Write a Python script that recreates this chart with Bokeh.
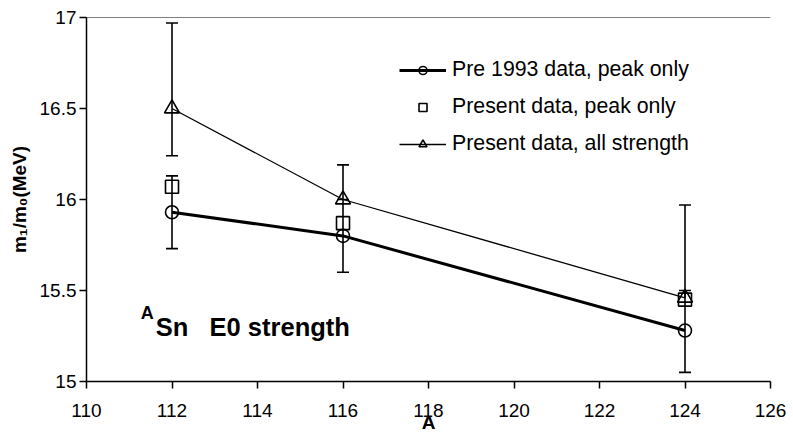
from bokeh.plotting import figure
from bokeh.models import (ColumnDataSource, Whisker, TeeHead, Legend, LegendItem,
                          Label, Span, FixedTicker)
from bokeh.embed import file_html
from bokeh.resources import INLINE

# ---- data ----
A = [112, 116, 124]
pre1993 = [15.93, 15.80, 15.28]
pre1993_lo = [15.73, 15.60, 15.05]
pre1993_hi = [16.13, 16.00, 15.50]
present_peak = [16.07, 15.87, 15.45]
present_all = [16.50, 16.00, 15.46]
present_all_hi = [16.97, 16.19, 15.97]
present_all_lo = [16.24, float("nan"), float("nan")]

x_ticks = [110, 112, 114, 116, 118, 120, 122, 124, 126]
y_ticks = [15, 15.5, 16, 16.5, 17]
y_tick_labels = ["15", "15.5", "16", "16.5", "17"]

FONT = "Liberation Sans"

p = figure(width=793, height=435, x_range=(110, 126), y_range=(15, 17),
           output_backend="svg", toolbar_location=None,
           min_border_left=86, min_border_right=23, min_border_top=17, min_border_bottom=53)
p.outline_line_color = None
p.grid.grid_line_color = None
p.background_fill_color = "white"

for ax in (p.xaxis[0], p.yaxis[0]):
    ax.axis_line_color = "black"
    ax.axis_line_width = 1.5
    ax.major_tick_line_color = "black"
    ax.major_tick_line_width = 1.5
    ax.major_tick_out = 7
    ax.major_tick_in = 0
    ax.minor_tick_line_color = None
    ax.major_label_text_font = FONT
    ax.major_label_text_font_size = "19px"
    ax.major_label_text_color = "black"
    ax.axis_label_text_font = FONT
    ax.axis_label_text_font_style = "bold"
    ax.axis_label_text_font_size = "19px"
    ax.axis_label_text_color = "black"

p.xaxis.ticker = FixedTicker(ticks=x_ticks)
p.yaxis.ticker = FixedTicker(ticks=y_ticks)
p.yaxis.major_label_overrides = {t: l for t, l in zip(y_ticks, y_tick_labels)}
p.xaxis.major_label_standoff = 15
p.yaxis.major_label_standoff = 3
p.xaxis.axis_label = "A"
p.xaxis.axis_label_standoff = -8
p.yaxis.axis_label = "m\u2081/m\u2080(MeV)"
p.yaxis.axis_label_standoff = 7

p.add_layout(Span(location=17, dimension="width", line_color="black", line_width=1.2))

src = ColumnDataSource(dict(x=A, pre=pre1993, pre_lo=pre1993_lo, pre_hi=pre1993_hi,
                            peak=present_peak, allv=present_all,
                            all_hi=present_all_hi, all_lo=present_all_lo))

l_all = p.line("x", "allv", source=src, line_color="black", line_width=1.3)
l_pre = p.line("x", "pre", source=src, line_color="black", line_width=3)

wk = dict(line_color="black", line_width=1.6)
w1 = Whisker(base="x", lower="pre_lo", upper="pre_hi", source=src, dimension="height",
             upper_head=TeeHead(size=12, line_width=1.6), lower_head=TeeHead(size=12, line_width=1.6), **wk)
w2 = Whisker(base="x", lower="allv", upper="all_hi", source=src, dimension="height",
             upper_head=TeeHead(size=12, line_width=1.6), lower_head=None, **wk)
w3 = Whisker(base="x", lower="all_lo", upper="allv", source=src, dimension="height",
             upper_head=None, lower_head=TeeHead(size=12, line_width=1.6), **wk)
for w in (w1, w2, w3):
    p.add_layout(w)

m_pre = p.scatter("x", "pre", source=src, marker="circle", size=13, fill_alpha=0,
                  line_color="black", line_width=1.6)
m_peak = p.scatter("x", "peak", source=src, marker="square", size=13, fill_alpha=0,
                   line_color="black", line_width=1.6)
m_all = p.scatter("x", "allv", source=src, marker="triangle", size=15, fill_alpha=0,
                  line_color="black", line_width=1.6)

legend = Legend(items=[
    LegendItem(label="Pre 1993 data, peak only", renderers=[l_pre, m_pre]),
    LegendItem(label="Present data, peak only", renderers=[m_peak]),
    LegendItem(label="Present data, all strength", renderers=[l_all, m_all]),
], location=(313, 225), glyph_width=47, glyph_height=20, label_height=20,
    label_standoff=6, spacing=12, padding=0, margin=0,
    border_line_color=None, background_fill_alpha=0,
    label_text_font=FONT, label_text_font_size="21.3px", label_text_color="black")
p.add_layout(legend)

p.add_layout(Label(x=111.62, y=15.30, text="Sn\u00a0\u00a0\u00a0E0 strength", text_font=FONT,
                   text_font_style="bold", text_font_size="25.5px", text_color="black",
                   text_baseline="alphabetic"))
p.add_layout(Label(x=111.27, y=15.377, text="A", text_font=FONT,
                   text_font_style="bold", text_font_size="18px", text_color="black",
                   text_baseline="alphabetic"))

open("out.html", "w").write(file_html(p, INLINE))
